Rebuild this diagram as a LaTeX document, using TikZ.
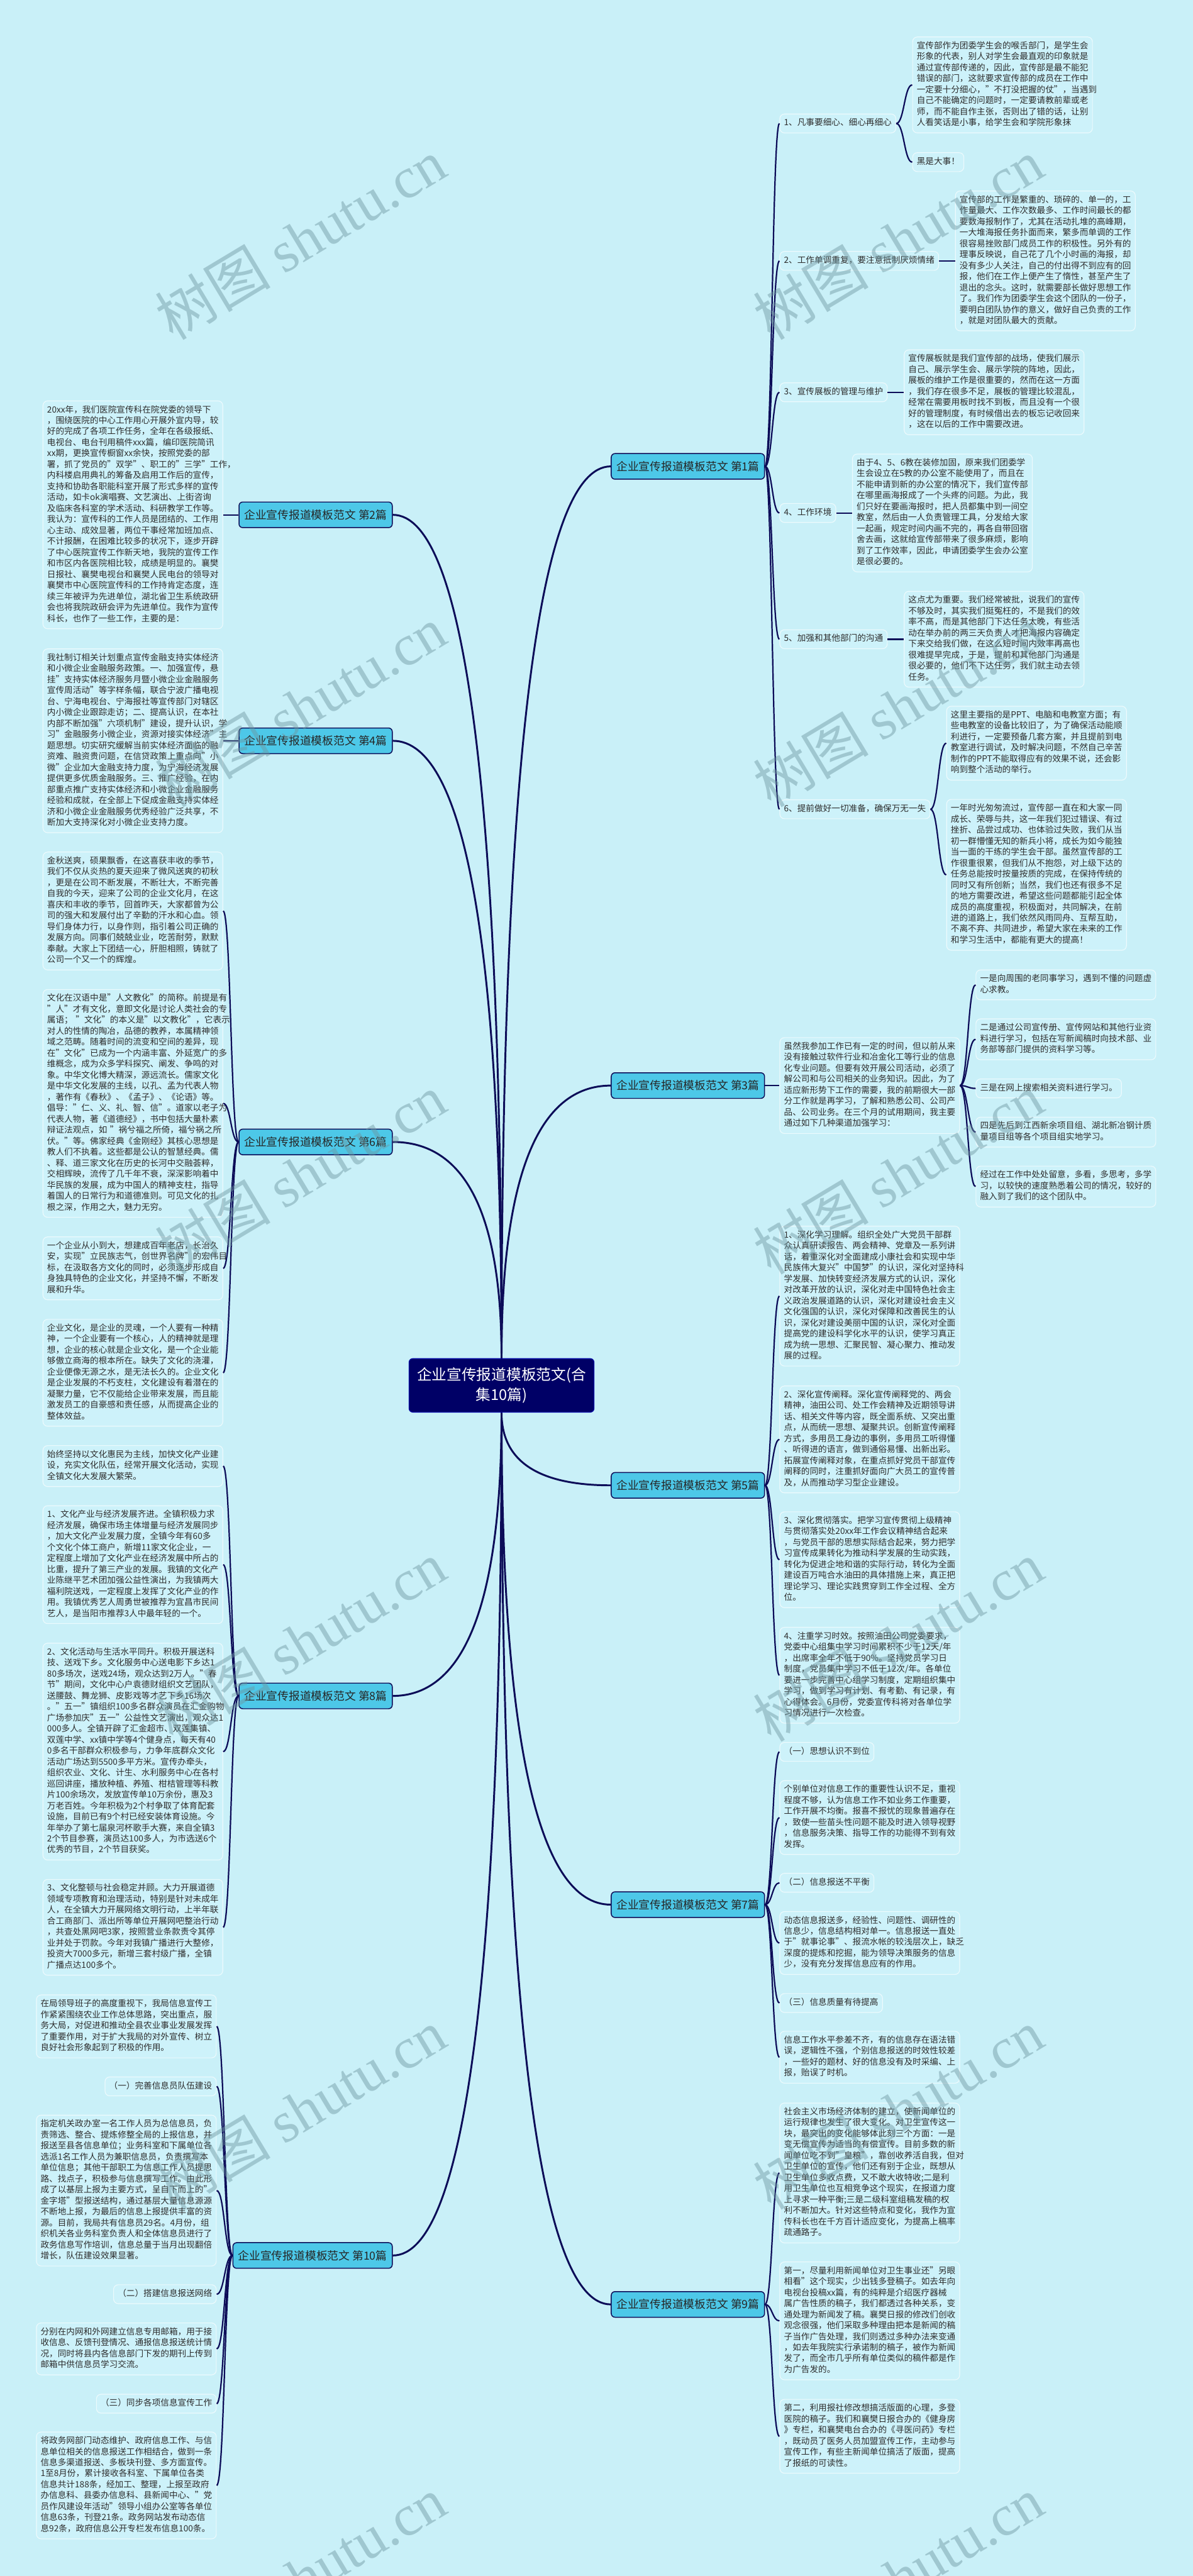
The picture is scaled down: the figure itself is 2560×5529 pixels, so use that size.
\documentclass[tikz,border=0pt]{standalone}
\usepackage{fontspec}
\setmainfont{Noto Sans CJK SC}
\newfontfamily\wmlatin{Liberation Serif}
\usetikzlibrary{calc}
\definecolor{bgc}{RGB}{201,240,248}
\definecolor{boxfill}{RGB}{205,242,250}
\definecolor{boxline}{RGB}{236,250,253}
\definecolor{labfill}{RGB}{77,200,232}
\definecolor{navy}{RGB}{12,12,88}
\definecolor{cfill}{RGB}{0,0,102}
\definecolor{txtc}{RGB}{45,45,45}
\definecolor{wmc}{RGB}{110,150,160}
\newcommand\T[1]{\strut#1\strut}
\newcommand\mconn[2]{\draw[mline] (#1) .. controls ($(#1)!0.6667!(#1 |- #2)$) and ($(#2)!0.6667!(#1 |- #2)$) .. (#2);}
\newcommand\conn[2]{\draw[cline] (#1) .. controls ($(#1)!0.5!(#1 -| #2)$) and ($(#2)!0.5!(#2 -| #1)$) .. (#2);}
\tikzset{
 tbox/.style={draw=boxline, line width=0.8pt, fill=boxfill, rounded corners=5pt, text width=184pt, align=left, inner xsep=4.5pt, inner ysep=4.25pt, font=\fontsize{9.2pt}{11.8pt}\selectfont, text=txtc},
 sbox/.style={draw=boxline, line width=0.8pt, fill=boxfill, rounded corners=5pt, inner xsep=4.5pt, inner ysep=4.25pt, font=\fontsize{9.2pt}{11.8pt}\selectfont, text=txtc},
 lab/.style={draw=navy, line width=1pt, fill=labfill, rounded corners=4pt, inner xsep=5.5pt, minimum width=164.5pt, minimum height=27.5pt, font=\fontsize{12pt}{14pt}\selectfont, text=black!85},
 cnode/.style={draw=blue!40!cfill, line width=0.8pt, fill=cfill, rounded corners=4pt, minimum width=198.5pt, minimum height=57.5pt, text width=190pt, align=center, font=\fontsize{16pt}{21.5pt}\selectfont, text=white},
 mline/.style={draw=navy, line width=2pt},
 cline/.style={draw=navy, line width=1.5pt},
 wm/.style={font=\fontsize{62pt}{62pt}\selectfont, text=wmc, opacity=0.45, rotate=31}
}
\begin{document}
\begin{tikzpicture}[x=0.5pt,y=-0.5pt]
\useasboundingbox (0,0) rectangle (2560,5529);
\fill[bgc] (0,0) rectangle (2560,5529);

% center
\node[cnode] (C) at (1076.5,2973.5) {企业宣传报道模板范文(合\\集10篇)};

% labels
\node[lab, anchor=west] (lab1) at (1311,1001) {企业宣传报道模板范文 第1篇};
\node[lab, anchor=west] (lab3) at (1311,2330) {企业宣传报道模板范文 第3篇};
\node[lab, anchor=west] (lab5) at (1311,3188) {企业宣传报道模板范文 第5篇};
\node[lab, anchor=west] (lab7) at (1311,4088) {企业宣传报道模板范文 第7篇};
\node[lab, anchor=west] (lab9) at (1311,4946) {企业宣传报道模板范文 第9篇};
\node[lab, anchor=east] (lab2) at (843,1105) {企业宣传报道模板范文 第2篇};
\node[lab, anchor=east] (lab4) at (843,1590) {企业宣传报道模板范文 第4篇};
\node[lab, anchor=east] (lab6) at (843,2451) {企业宣传报道模板范文 第6篇};
\node[lab, anchor=east] (lab8) at (843,3640) {企业宣传报道模板范文 第8篇};
\node[lab, anchor=east] (lab10) at (843,4841) {企业宣传报道模板范文 第10篇};

% ---------- 第1篇 ----------
\node[sbox, anchor=west] (R1) at (1673,265) {\T{1、凡事要细心、细心再细心}};
\node[sbox, anchor=west] (R2) at (1673,560) {\T{2、工作单调重复，要注意抵制厌烦情绪}};
\node[sbox, anchor=west] (R3) at (1673,842) {\T{3、宣传展板的管理与维护}};
\node[sbox, anchor=west] (R4) at (1673,1101) {\T{4、工作环境}};
\node[sbox, anchor=west] (R5) at (1673,1372) {\T{5、加强和其他部门的沟通}};
\node[sbox, anchor=west] (R6) at (1673,1737) {\T{6、提前做好一切准备，确保万无一失}};
\node[tbox, anchor=south west] (R1a) at (1958,286) {\T{宣传部作为团委学生会的喉舌部门，是学生会\\形象的代表，别人对学生会最直观的印象就是\\通过宣传部传递的，因此，宣传部是最不能犯\\错误的部门，这就要求宣传部的成员在工作中\\一定要十分细心，"不打没把握的仗"，当遇到\\自己不能确定的问题时，一定要请教前辈或老\\师，而不能自作主张，否则出了错的话，让别\\人看笑话是小事，给学生会和学院形象抹}};
\node[sbox, anchor=west] (R1b) at (1958,348) {\T{黑是大事！}};
\node[tbox, anchor=west] (R2a) at (2050,560) {\T{宣传部的工作是繁重的、琐碎的、单一的，工\\作量最大、工作次数最多、工作时间最长的都\\要数海报制作了，尤其在活动扎堆的高峰期，\\一大堆海报任务扑面而来，繁多而单调的工作\\很容易挫败部门成员工作的积极性。另外有的\\理事反映说，自己花了几个小时画的海报，却\\没有多少人关注，自己的付出得不到应有的回\\报，他们在工作上便产生了惰性，甚至产生了\\退出的念头。这时，就需要部长做好思想工作\\了。我们作为团委学生会这个团队的一份子，\\要明白团队协作的意义，做好自己负责的工作\\，就是对团队最大的贡献。}};
\node[tbox, anchor=west] (R3a) at (1940,842) {\T{宣传展板就是我们宣传部的战场，使我们展示\\自己、展示学生会、展示学院的阵地，因此，\\展板的维护工作是很重要的，然而在这一方面\\，我们存在很多不足，展板的管理比较混乱，\\经常在需要用板时找不到板，而且没有一个很\\好的管理制度，有时候借出去的板忘记收回来\\，这在以后的工作中需要改进。}};
\node[tbox, anchor=west] (R4a) at (1829,1101) {\T{由于4、5、6教在装修加固，原来我们团委学\\生会设立在5教的办公室不能使用了，而且在\\不能申请到新的办公室的情况下，我们宣传部\\在哪里画海报成了一个头疼的问题。为此，我\\们只好在要画海报时，把人员都集中到一间空\\教室，然后由一人负责管理工具，分发给大家\\一起画，规定时间内画不完的，再各自带回宿\\舍去画，这就给宣传部带来了很多麻烦，影响\\到了工作效率，因此，申请团委学生会办公室\\是很必要的。}};
\node[tbox, anchor=west] (R5a) at (1940,1372) {\T{这点尤为重要。我们经常被批，说我们的宣传\\不够及时，其实我们挺冤枉的，不是我们的效\\率不高，而是其他部门下达任务太晚，有些活\\动在举办前的两三天负责人才把海报内容确定\\下来交给我们做，在这么短时间内效率再高也\\很难提早完成，于是，提前和其他部门沟通是\\很必要的，他们不下达任务，我们就主动去领\\任务。}};
\node[tbox, anchor=north west] (R6a) at (2031,1515) {\T{这里主要指的是PPT、电脑和电教室方面；有\\些电教室的设备比较旧了，为了确保活动能顺\\利进行，一定要预备几套方案，并且提前到电\\教室进行调试，及时解决问题，不然自己辛苦\\制作的PPT不能取得应有的效果不说，还会影\\响到整个活动的举行。}};
\node[tbox, anchor=north west] (R6b) at (2031,1715) {\T{一年时光匆匆流过，宣传部一直在和大家一同\\成长、荣辱与共，这一年我们犯过错误、有过\\挫折、品尝过成功、也体验过失败，我们从当\\初一群懵懂无知的新兵小将，成长为如今能独\\当一面的干练的学生会干部。虽然宣传部的工\\作很重很累，但我们从不抱怨，对上级下达的\\任务总能按时按量按质的完成，在保持传统的\\同时又有所创新；当然，我们也还有很多不足\\的地方需要改进，希望这些问题都能引起全体\\成员的高度重视，积极面对，共同解决，在前\\进的道路上，我们依然风雨同舟、互帮互助，\\不离不弃、共同进步，希望大家在未来的工作\\和学习生活中，都能有更大的提高！}};

% ---------- 第3篇 ----------
\node[tbox, anchor=west] (T3) at (1673,2330) {\T{虽然我参加工作已有一定的时间，但以前从来\\没有接触过软件行业和冶金化工等行业的信息\\化专业问题。但要有效开展公司活动，必须了\\解公司和与公司相关的业务知识。因此，为了\\适应新形势下工作的需要，我的前期很大一部\\分工作就是再学习，了解和熟悉公司、公司产\\品、公司业务。在三个月的试用期间，我主要\\通过如下几种渠道加强学习：}};
\node[tbox, anchor=north west] (c1) at (2094,2081) {\T{一是向周围的老同事学习，遇到不懂的问题虚\\心求教。}};
\node[tbox, anchor=north west] (c2) at (2094,2186) {\T{二是通过公司宣传册、宣传网站和其他行业资\\料进行学习，包括在写新闻稿时向技术部、业\\务部等部门提供的资料学习等。}};
\node[sbox, anchor=north west] (c3) at (2094,2315) {\T{三是在网上搜索相关资料进行学习。}};
\node[tbox, anchor=north west] (c4) at (2094,2397) {\T{四是先后到江西新余项目组、湖北新冶钢计质\\量项目组等各个项目组实地学习。}};
\node[tbox, anchor=north west] (c5) at (2094,2502) {\T{经过在工作中处处留意，多看，多思考，多学\\习，以较快的速度熟悉着公司的情况，较好的\\融入到了我们的这个团队中。}};

% ---------- 第5篇 ----------
\node[tbox, anchor=north west] (F1) at (1673,2631) {\T{1、深化学习理解。组织全处广大党员干部群\\众认真研读报告、两会精神、党章及一系列讲\\话，着重深化对全面建成小康社会和实现中华\\民族伟大复兴"中国梦"的认识，深化对坚持科\\学发展、加快转变经济发展方式的认识，深化\\对改革开放的认识，深化对走中国特色社会主\\义政治发展道路的认识，深化对建设社会主义\\文化强国的认识，深化对保障和改善民生的认\\识，深化对建设美丽中国的认识，深化对全面\\提高党的建设科学化水平的认识，使学习真正\\成为统一思想、汇聚民智、凝心聚力、推动发\\展的过程。}};
\node[tbox, anchor=north west] (F2) at (1673,2974) {\T{2、深化宣传阐释。深化宣传阐释党的、两会\\精神，油田公司、处工作会精神及近期领导讲\\话、相关文件等内容，既全面系统、又突出重\\点，从而统一思想、凝聚共识。创新宣传阐释\\方式，多用员工身边的事例，多用员工听得懂\\、听得进的语言，做到通俗易懂、出新出彩。\\拓展宣传阐释对象，在重点抓好党员干部宣传\\阐释的同时，注重抓好面向广大员工的宣传普\\及，从而推动学习型企业建设。}};
\node[tbox, anchor=north west] (F3) at (1673,3244) {\T{3、深化贯彻落实。把学习宣传贯彻上级精神\\与贯彻落实处20xx年工作会议精神结合起来\\，与党员干部的思想实际结合起来，努力把学\\习宣传成果转化为推动科学发展的生动实践，\\转化为促进企地和谐的实际行动，转化为全面\\建设百万吨合水油田的具体措施上来，真正把\\理论学习、理论实践贯穿到工作全过程、全方\\位。}};
\node[tbox, anchor=north west] (F4) at (1673,3492) {\T{4、注重学习时效。按照油田公司党委要求，\\党委中心组集中学习时间累积不少于12天/年\\，出席率全年不低于90\%。坚持党员学习日\\制度，党员集中学习不低于12次/年。各单位\\要进一步完善中心组学习制度，定期组织集中\\学习，做到学习有计划、有考勤、有记录，有\\心得体会。6月份，党委宣传科将对各单位学\\习情况进行一次检查。}};

% ---------- 第7篇 ----------
\node[sbox, anchor=north west] (S1) at (1673,3739) {\T{（一）思想认识不到位}};
\node[tbox, anchor=north west] (S2) at (1673,3821) {\T{个别单位对信息工作的重要性认识不足，重视\\程度不够，认为信息工作不如业务工作重要，\\工作开展不均衡。报喜不报忧的现象普遍存在\\，致使一些苗头性问题不能及时进入领导视野\\，信息服务决策、指导工作的功能得不到有效\\发挥。}};
\node[sbox, anchor=north west] (S3) at (1673,4020) {\T{（二）信息报送不平衡}};
\node[tbox, anchor=north west] (S4) at (1673,4102) {\T{动态信息报送多，经验性、问题性、调研性的\\信息少，信息结构相对单一。信息报送一直处\\于"就事论事"、报流水帐的较浅层次上，缺乏\\深度的提炼和挖掘，能为领导决策服务的信息\\少，没有充分发挥信息应有的作用。}};
\node[sbox, anchor=north west] (S5) at (1673,4278) {\T{（三）信息质量有待提高}};
\node[tbox, anchor=north west] (S6) at (1673,4359) {\T{信息工作水平参差不齐，有的信息存在语法错\\误，逻辑性不强，个别信息报送的时效性较差\\，一些好的题材、好的信息没有及时采编、上\\报，贻误了时机。}};

% ---------- 第9篇 ----------
\node[tbox, anchor=north west] (N1) at (1673,4513) {\T{社会主义市场经济体制的建立，使新闻单位的\\运行规律也发生了很大变化。对卫生宣传这一\\块，最突出的变化能够体此刻三个方面：一是\\变无偿宣传为适当的有偿宣传。目前多数的新\\闻单位吃不到"皇粮"，靠创收养活自我，但对\\卫生单位的宣传，他们还有别于企业，既想从\\卫生单位多收点费，又不敢大收特收;二是利\\用卫生单位也互相竞争这个现实，在报道力度\\上寻求一种平衡;三是二级科室组稿发稿的权\\利不断加大。针对这些特点和变化，我作为宣\\传科长也在千方百计适应变化，为提高上稿率\\疏通路子。}};
\node[tbox, anchor=north west] (N2) at (1673,4854) {\T{第一，尽量利用新闻单位对卫生事业还"另眼\\相看"这个现实，少出钱多登稿子。如去年向\\电视台投稿xx篇，有的纯粹是介绍医疗器械\\属广告性质的稿子，我们都透过各种关系，变\\通处理为新闻发了稿。襄樊日报的修改们创收\\观念很强，他们采取多种理由把本是新闻的稿\\子当作广告处理，我们则透过多种办法来变通\\，如去年我院实行承诺制的稿子，被作为新闻\\发了，而全市几乎所有单位类似的稿件都是作\\为广告发的。}};
\node[tbox, anchor=north west] (N3) at (1673,5149) {\T{第二，利用报社修改想搞活版面的心理，多登\\医院的稿子。我们和襄樊日报合办的《健身房\\》专栏，和襄樊电台合办的《寻医问药》专栏\\，既动员了医务人员加盟宣传工作，主动参与\\宣传工作，有些主新闻单位搞活了版面，提高\\了报纸的可读性。}};

% ---------- 第2篇 ----------
\node[tbox, anchor=east] (L2) at (479,1105) {\T{20xx年，我们医院宣传科在院党委的领导下\\，围绕医院的中心工作用心开展外宣内导，较\\好的完成了各项工作任务，全年在各级报纸、\\电视台、电台刊用稿件xxx篇，编印医院简讯\\xx期，更换宣传橱窗xx余快，按照党委的部\\署，抓了党员的"双学"、职工的"三学"工作，\\内科楼启用典礼的筹备及启用工作后的宣传，\\支持和协助各职能科室开展了形式多样的宣传\\活动，如卡ok演唱赛、文艺演出、上街咨询\\及临床各科室的学术活动、科研教学工作等。\\我认为：宣传科的工作人员是团结的、工作用\\心主动、成效显著，两位干事经常加班加点、\\不计报酬，在困难比较多的状况下，逐步开辟\\了中心医院宣传工作新天地，我院的宣传工作\\和市区内各医院相比较，成绩是明显的。襄樊\\日报社、襄樊电视台和襄樊人民电台的领导对\\襄樊市中心医院宣传科的工作持肯定态度，连\\续三年被评为先进单位，湖北省卫生系统政研\\会也将我院政研会评为先进单位。我作为宣传\\科长，也作了一些工作，主要的是：}};

% ---------- 第4篇 ----------
\node[tbox, anchor=east] (L4) at (479,1590) {\T{我社制订相关计划重点宣传金融支持实体经济\\和小微企业金融服务政策。一、加强宣传，悬\\挂"支持实体经济服务月暨小微企业金融服务\\宣传周活动"等字样条幅，联合宁波广播电视\\台、宁海电视台、宁海报社等宣传部门对辖区\\内小微企业跟踪走访；二、提高认识，在本社\\内部不断加强"六项机制"建设，提升认识，学\\习"金融服务小微企业，资源对接实体经济"主\\题思想。切实研究缓解当前实体经济面临的融\\资难、融资贵问题，在信贷政策上重点向"小\\微"企业加大金融支持力度，为宁海经济发展\\提供更多优质金融服务。三、推广经验，在内\\部重点推广支持实体经济和小微企业金融服务\\经验和成就，在全部上下促成金融支持实体经\\济和小微企业金融服务优秀经验广泛共享，不\\断加大支持深化对小微企业支持力度。}};

% ---------- 第6篇 ----------
\node[tbox, anchor=north east] (X1) at (479,1828) {\T{金秋送爽，硕果飘香，在这喜获丰收的季节，\\我们不仅从炎热的夏天迎来了微风送爽的初秋\\，更是在公司不断发展，不断壮大，不断完善\\自我的今天，迎来了公司的企业文化月，在这\\喜庆和丰收的季节，回首昨天，大家都曾为公\\司的强大和发展付出了辛勤的汗水和心血。领\\导们身体力行，以身作则，指引着公司正确的\\发展方向。同事们兢兢业业，吃苦耐劳，默默\\奉献。大家上下团结一心，肝胆相照，铸就了\\公司一个又一个的辉煌。}};
\node[tbox, anchor=north east] (X2) at (479,2123) {\T{文化在汉语中是"人文教化"的简称。前提是有\\"人"才有文化，意即文化是讨论人类社会的专\\属语；~"文化"的本义是"以文教化"，它表示\\对人的性情的陶冶，品德的教养，本属精神领\\域之范畴。随着时间的流变和空间的差异，现\\在"文化"已成为一个内涵丰富、外延宽广的多\\维概念，成为众多学科探究、阐发、争鸣的对\\象。中华文化博大精深，源远流长。儒家文化\\是中华文化发展的主线，以孔、孟为代表人物\\，著作有《春秋》、《孟子》、《论语》等。\\倡导："仁、义、礼、智、信"。道家以老子为\\代表人物，著《道德经》，书中包括大量朴素\\辩证法观点，如~"祸兮福之所倚，福兮祸之所\\伏。"等。佛家经典《金刚经》其核心思想是\\教人们不执着。这些都是公认的智慧经典。儒\\、释、道三家文化在历史的长河中交融荟粹，\\交相辉映，流传了几千年不衰，深深影响着中\\华民族的发展，成为中国人的精神支柱，指导\\着国人的日常行为和道德准则。可见文化的扎\\根之深，作用之大，魅力无穷。}};
\node[tbox, anchor=north east] (X3) at (479,2654) {\T{一个企业从小到大，想建成百年老店，长治久\\安，实现"立民族志气，创世界名牌"的宏伟目\\标，在汲取各方文化的同时，必须逐步形成自\\身独具特色的企业文化，并坚持不懈，不断发\\展和升华。}};
\node[tbox, anchor=north east] (X4) at (479,2831) {\T{企业文化，是企业的灵魂，一个人要有一种精\\神，一个企业要有一个核心，人的精神就是理\\想，企业的核心就是企业文化，是一个企业能\\够傲立商海的根本所在。缺失了文化的浇灌，\\企业便像无源之水，是无法长久的。企业文化\\是企业发展的不朽支柱，文化建设有着潜在的\\凝聚力量，它不仅能给企业带来发展，而且能\\激发员工的自豪感和责任感，从而提高企业的\\整体效益。}};

% ---------- 第8篇 ----------
\node[tbox, anchor=north east] (E1) at (479,3102) {\T{始终坚持以文化惠民为主线，加快文化产业建\\设，充实文化队伍，经常开展文化活动，实现\\全镇文化大发展大繁荣。}};
\node[tbox, anchor=north east] (E2) at (479,3231) {\T{1、文化产业与经济发展齐进。全镇积极力求\\经济发展，确保市场主体增量与经济发展同步\\，加大文化产业发展力度，全镇今年有60多\\个文化个体工商户，新增11家文化企业，一\\定程度上增加了文化产业在经济发展中所占的\\比重，提升了第三产业的发展。我镇的文化产\\业陈继平艺术团加强公益性演出，为我镇两大\\福利院送戏，一定程度上发挥了文化产业的作\\用。我镇优秀艺人周勇世被推荐为宜昌市民间\\艺人，是当阳市推荐3人中最年轻的一个。}};
\node[tbox, anchor=north east] (E3) at (479,3526) {\T{2、文化活动与生活水平同升。积极开展送科\\技、送戏下乡。文化服务中心送电影下乡达1\\80多场次，送戏24场，观众达到2万人。"春\\节"期间，文化中心户袁德财组织文艺团队，\\送腰鼓、舞龙狮、皮影戏等才艺下乡16场次\\。"五一"镇组织100多名群众演员在汇金购物\\广场参加庆"五一"公益性文艺演出，观众达1\\000多人。全镇开辟了汇金超市、双莲集镇、\\双莲中学、xx镇中学等4个健身点，每天有40\\0多名干部群众积极参与，力争年底群众文化\\活动广场达到5500多平方米。宣传办牵头，\\组织农业、文化、计生、水利服务中心在各村\\巡回讲座，播放种植、养殖、柑桔管理等科教\\片100余场次，发放宣传单10万余份，惠及3\\万老百姓。今年积极为2个村争取了体育配套\\设施，目前已有9个村已经安装体育设施。今\\年举办了第七届泉河杯歌手大赛，来自全镇3\\2个节目参赛，演员达100多人，为市选送6个\\优秀的节目，2个节目获奖。}};
\node[tbox, anchor=north east] (E4) at (479,4033) {\T{3、文化整顿与社会稳定并顾。大力开展道德\\领域专项教育和治理活动，特别是针对未成年\\人，在全镇大力开展网络文明行动，上半年联\\合工商部门、派出所等单位开展网吧整治行动\\，共查处黑网吧3家，按照营业条款责令其停\\业并处于罚款。今年对我镇广播进行大整修，\\投资大7000多元，新增三套村级广播，全镇\\广播点达100多个。}};

% ---------- 第10篇 ----------
\node[tbox, anchor=north east] (Z1) at (465,4281) {\T{在局领导班子的高度重视下，我局信息宣传工\\作紧紧围绕农业工作总体思路，突出重点，服\\务大局，对促进和推动全县农业事业发展发挥\\了重要作用，对于扩大我局的对外宣传、树立\\良好社会形象起到了积极的作用。}};
\node[sbox, anchor=north east] (Z2) at (465,4457) {\T{（一）完善信息员队伍建设}};
\node[tbox, anchor=north east] (Z3) at (465,4539) {\T{指定机关政办室一名工作人员为总信息员，负\\责筛选、整合、提炼修整全局的上报信息，并\\报送至县各信息单位；业务科室和下属单位各\\选派1名工作人员为兼职信息员，负责撰写本\\单位信息；其他干部职工为信息工作人员提思\\路、找点子，积极参与信息撰写工作。由此形\\成了以基层上报为主要方式，呈自下而上的"\\金字塔"型报送结构，通过基层大量信息源源\\不断地上报，为最后的信息上报提供丰富的资\\源。目前，我局共有信息员29名。4月份，组\\织机关各业务科室负责人和全体信息员进行了\\政务信息写作培训，信息总量于当月出现翻倍\\增长，队伍建设效果显著。}};
\node[sbox, anchor=north east] (Z4) at (465,4903) {\T{（二）搭建信息报送网络}};
\node[tbox, anchor=north east] (Z5) at (465,4985) {\T{分别在内网和外网建立信息专用邮箱，用于接\\收信息、反馈刊登情况、通报信息报送统计情\\况，同时将县内各信息部门下发的期刊上传到\\邮箱中供信息员学习交流。}};
\node[sbox, anchor=north east] (Z6) at (465,5138) {\T{（三）同步各项信息宣传工作}};
\node[tbox, anchor=north east] (Z7) at (465,5219) {\T{将政务网部门动态维护、政府信息工作、与信\\息单位相关的信息报送工作相结合，做到一条\\信息多渠道报送、多板块刊登、多方面宣传。\\1至8月份，累计接收各科室、下属单位各类\\信息共计188条，经加工、整理，上报至政府\\办信息科、县委办信息科、县新闻中心、"党\\员作风建设年活动"领导小组办公室等各单位\\信息63条，刊登21条。政务网站发布动态信\\息92条，政府信息公开专栏发布信息100条。}};

% ---------- connectors: center to labels ----------
\mconn{C.north}{lab2.east}
\mconn{C.north}{lab4.east}
\mconn{C.north}{lab6.east}
\mconn{C.north}{lab1.west}
\mconn{C.north}{lab3.west}
\mconn{C.south}{lab8.east}
\mconn{C.south}{lab10.east}
\mconn{C.south}{lab5.west}
\mconn{C.south}{lab7.west}
\mconn{C.south}{lab9.west}

% ---------- connectors: labels to children ----------
\conn{lab1.east}{R1.west}
\conn{lab1.east}{R2.west}
\conn{lab1.east}{R3.west}
\conn{lab1.east}{R4.west}
\conn{lab1.east}{R5.west}
\conn{lab1.east}{R6.west}
\conn{R1.east}{R1a.west}
\conn{R1.east}{R1b.west}
\conn{R2.east}{R2a.west}
\conn{R3.east}{R3a.west}
\conn{R4.east}{R4a.west}
\conn{R5.east}{R5a.west}
\conn{R6.east}{R6a.west}
\conn{R6.east}{R6b.west}
\conn{lab3.east}{T3.west}
\conn{T3.east}{c1.west}
\conn{T3.east}{c2.west}
\conn{T3.east}{c3.west}
\conn{T3.east}{c4.west}
\conn{T3.east}{c5.west}
\conn{lab5.east}{F1.west}
\conn{lab5.east}{F2.west}
\conn{lab5.east}{F3.west}
\conn{lab5.east}{F4.west}
\conn{lab7.east}{S1.west}
\conn{lab7.east}{S2.west}
\conn{lab7.east}{S3.west}
\conn{lab7.east}{S4.west}
\conn{lab7.east}{S5.west}
\conn{lab7.east}{S6.west}
\conn{lab9.east}{N1.west}
\conn{lab9.east}{N2.west}
\conn{lab9.east}{N3.west}
\conn{lab2.west}{L2.east}
\conn{lab4.west}{L4.east}
\conn{lab6.west}{X1.east}
\conn{lab6.west}{X2.east}
\conn{lab6.west}{X3.east}
\conn{lab6.west}{X4.east}
\conn{lab8.west}{E1.east}
\conn{lab8.west}{E2.east}
\conn{lab8.west}{E3.east}
\conn{lab8.west}{E4.east}
\conn{lab10.west}{Z1.east}
\conn{lab10.west}{Z2.east}
\conn{lab10.west}{Z3.east}
\conn{lab10.west}{Z4.east}
\conn{lab10.west}{Z5.east}
\conn{lab10.west}{Z6.east}
\conn{lab10.west}{Z7.east}

% ---------- watermarks ----------
\foreach \wy in {513,1516,2520,3523,4527,5530}{
  \node[wm] at (645,\wy) {树图 {\wmlatin shutu.cn}};
  \node[wm] at (1928,\wy) {树图 {\wmlatin shutu.cn}};
}
\end{tikzpicture}
\end{document}
